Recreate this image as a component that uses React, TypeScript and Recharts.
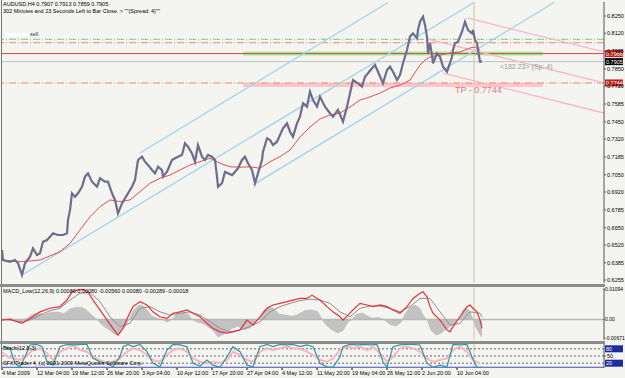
import React from "react";
import { ComposedChart, Line, Area, XAxis, YAxis, ReferenceLine } from "recharts";

const FONT = "'Liberation Sans', Arial, sans-serif";
const X_DOMAIN = [0, 602];

// H4 bar index counted from 4 Mar 2009 00:00
const dateTicks = [0, 35, 70, 105, 140, 175, 210, 245, 280, 315, 350, 385, 420, 455];
const dateLabels = [
  "4 Mar 2009", "12 Mar 04:00", "19 Mar 12:00", "26 Mar 20:00", "3 Apr 04:00", "10 Apr 12:00",
  "17 Apr 20:00", "27 Apr 04:00", "4 May 12:00", "11 May 20:00", "19 May 04:00", "26 May 12:00",
  "2 Jun 20:00", "10 Jun 04:00",
];

const priceTicks = [0.825, 0.812, 0.7985, 0.785, 0.772, 0.7585, 0.745, 0.732, 0.7185, 0.705, 0.692, 0.6785, 0.665, 0.652, 0.6385, 0.6255];

// [bar, close]
const closes: number[][] = [
  [0, 0.6482], [1, 0.6406], [8, 0.6393], [13, 0.6406], [16, 0.6381], [20, 0.6293], [23, 0.6381], [28, 0.6431],
  [31, 0.6494], [35, 0.6444], [38, 0.6457], [41, 0.6544], [45, 0.6557], [48, 0.6582], [51, 0.6608], [56, 0.6595],
  [61, 0.6595], [65, 0.6608], [66, 0.6708], [68, 0.6784], [70, 0.691], [73, 0.6884], [76, 0.691], [80, 0.696],
  [83, 0.7036], [86, 0.7061], [90, 0.6998], [95, 0.696], [98, 0.7024], [103, 0.6998], [106, 0.6998], [110, 0.691],
  [113, 0.686], [116, 0.6759], [120, 0.6834], [123, 0.6872], [126, 0.691], [130, 0.696], [133, 0.7011], [136, 0.7162],
  [140, 0.7187], [143, 0.7149], [146, 0.7124], [150, 0.7086], [153, 0.7061], [156, 0.7111], [160, 0.7086], [161, 0.7036],
  [165, 0.7073], [170, 0.7162], [173, 0.7175], [176, 0.7187], [180, 0.72], [183, 0.7288], [186, 0.7262], [190, 0.7212],
  [193, 0.7149], [196, 0.7275], [200, 0.7187], [203, 0.7162], [206, 0.72], [210, 0.7187], [213, 0.7162], [215, 0.7036],
  [216, 0.696], [220, 0.6986], [223, 0.7073], [226, 0.7061], [230, 0.7048], [233, 0.7073], [236, 0.7099], [240, 0.7162],
  [243, 0.7187], [246, 0.7137], [250, 0.7086], [253, 0.6986], [256, 0.7061], [260, 0.7162], [261, 0.7224], [265, 0.7326],
  [268, 0.7313], [271, 0.7275], [275, 0.73], [278, 0.7351], [281, 0.7401], [285, 0.7439], [288, 0.7376], [291, 0.7338],
  [295, 0.7439], [298, 0.7489], [301, 0.759], [305, 0.7565], [308, 0.7678], [311, 0.7615], [315, 0.7565], [318, 0.764],
  [323, 0.7565], [328, 0.7515], [331, 0.7489], [336, 0.754], [341, 0.7451], [345, 0.7565], [348, 0.7666], [351, 0.7766],
  [356, 0.7741], [360, 0.7716], [363, 0.7791], [366, 0.7817], [370, 0.7855], [373, 0.788], [376, 0.7829], [381, 0.7741],
  [385, 0.7842], [388, 0.7867], [391, 0.7829], [395, 0.7766], [398, 0.7804], [401, 0.7893], [405, 0.7993], [408, 0.8094],
  [411, 0.8119], [415, 0.8081], [416, 0.8144], [418, 0.8207], [421, 0.8245], [423, 0.8182], [425, 0.8094], [426, 0.7968],
  [428, 0.8044], [430, 0.7955], [431, 0.7893], [435, 0.7968], [438, 0.7942], [441, 0.7867], [445, 0.7829], [448, 0.7893],
  [450, 0.7942], [451, 0.7993], [453, 0.8044], [456, 0.8056], [460, 0.8131], [463, 0.8207], [466, 0.8144], [470, 0.8119],
  [471, 0.8144], [473, 0.8069], [475, 0.8044], [476, 0.7993], [478, 0.7905], [480, 0.7905],
];

const movingAvg: number[][] = [
  [0, 0.6406], [18, 0.6393], [38, 0.6406], [58, 0.6469], [68, 0.6532], [78, 0.6633], [88, 0.6733], [98, 0.6809],
  [108, 0.686], [118, 0.6847], [128, 0.686], [138, 0.6922], [148, 0.6986], [158, 0.7024], [168, 0.7048], [178, 0.7086],
  [188, 0.7124], [198, 0.7149], [208, 0.7175], [218, 0.7137], [228, 0.7111], [238, 0.7107], [248, 0.7111], [258, 0.7099],
  [268, 0.7149], [278, 0.7187], [288, 0.7237], [298, 0.7336], [308, 0.7411], [318, 0.7472], [328, 0.7502], [338, 0.7517],
  [348, 0.7562], [358, 0.7615], [368, 0.7638], [378, 0.7668], [388, 0.7706], [398, 0.7728], [408, 0.7766], [418, 0.788],
  [423, 0.7917], [428, 0.794], [438, 0.7955], [448, 0.797], [458, 0.7978], [468, 0.8008], [473, 0.8016], [478, 0.7993],
];

// [bar start, price start, bar end, price end]
const blueChannel = [
  [138, 0.7215, 386, 0.8352],
  [20, 0.6293, 472, 0.8352],
  [251, 0.6973, 552, 0.8352],
];
const pinkChannel = [
  [465, 0.8235, 602, 0.7978],
  [426, 0.8076, 602, 0.7744],
  [441, 0.7819, 602, 0.7517],
];

const levelGreen = 0.8074;
const levelOrange = 0.8048;
const levelRed = 0.7966;
const lastPrice = 0.7905;
const takeProfit = 0.7744;
const zoneBuy = [241, 541, 0.7966];
const zoneSell = [241, 541, 0.7729];
const currentBar = 472;

const macdMain: number[][] = [
  [0, -0.0002], [8, 0.0001], [15, -0.0008], [20, -0.0014], [28, 0.0004], [38, 0.0028], [48, 0.0041], [58, 0.0047],
  [65, 0.0071], [70, 0.0101], [76, 0.0108], [81, 0.011], [86, 0.0101], [91, 0.0071], [98, 0.0035], [105, -0.0002],
  [111, -0.0032], [116, -0.0057], [121, -0.0032], [126, 0.001], [131, 0.0047], [138, 0.0065], [145, 0.0053], [151, 0.0028],
  [158, 0.001], [165, 0.0004], [171, 0.0023], [178, 0.0028], [185, 0.0035], [191, 0.0023], [198, 0.001], [205, -0.0014],
  [211, -0.0032], [218, -0.0045], [225, -0.005], [231, -0.0045], [238, -0.0038], [245, -0.0002], [251, -0.002], [258, 0.001],
  [265, 0.0041], [271, 0.0053], [278, 0.0059], [285, 0.0065], [291, 0.0071], [298, 0.0077], [305, 0.0077], [310, 0.0089],
  [315, 0.0077], [318, 0.0071], [325, 0.0047], [331, 0.0028], [338, 0.001], [341, -0.0002], [346, 0.0016], [351, 0.0035],
  [358, 0.0059], [365, 0.0053], [371, 0.0047], [378, 0.0053], [385, 0.0047], [391, 0.0035], [398, 0.0023], [405, 0.0047],
  [411, 0.0077], [418, 0.0096], [421, 0.0101], [425, 0.0083], [428, 0.0047], [431, 0.0023], [438, -0.0002], [445, -0.0038],
  [448, -0.0045], [451, -0.0026], [458, 0.001], [465, 0.0047], [468, 0.0053], [471, 0.0041], [475, 0.0028], [478, -0.0002],
  [480, -0.0032],
];

const macdSignal: number[][] = [
  [0, 0.0001], [8, -0.0002], [18, -0.0008], [28, -0.0002], [38, 0.0016], [48, 0.0032], [58, 0.0041], [68, 0.0071],
  [78, 0.0096], [88, 0.0098], [98, 0.0065], [108, 0.001], [118, -0.0026], [128, -0.0014], [138, 0.0041], [148, 0.0047],
  [158, 0.0028], [168, 0.0016], [178, 0.0023], [188, 0.0028], [198, 0.0016], [208, -0.0008], [218, -0.0032], [228, -0.0045],
  [238, -0.0038], [248, -0.0026], [258, -0.0008], [268, 0.0028], [278, 0.0047], [288, 0.0059], [298, 0.0069], [308, 0.0074],
  [318, 0.0071], [328, 0.0059], [338, 0.0028], [348, 0.001], [358, 0.0041], [368, 0.0049], [378, 0.0049], [388, 0.0041],
  [398, 0.0028], [408, 0.0047], [418, 0.0077], [428, 0.0077], [438, 0.0028], [448, -0.002], [458, -0.0014], [468, 0.0028],
  [478, 0.0023], [480, 0.001],
];

const macdHist: number[][] = [
  [0, 0], [10, 0.0002], [16, -0.001], [22, 0], [26, 0.0006], [30, 0.0018], [36, 0.0024], [42, 0.0018], [48, 0.0026],
  [56, 0.0027], [62, 0.0022], [68, 0.0038], [74, 0.0045], [80, 0.0044], [84, 0.0036], [90, 0.0016], [95, 0], [100, -0.002],
  [106, -0.0035], [112, -0.0052], [116, -0.0057], [120, -0.004], [124, -0.0022], [127, 0], [131, 0.003], [136, 0.005],
  [140, 0.0053], [145, 0.0035], [150, 0.0012], [155, 0.0005], [160, 0], [165, -0.0009], [170, 0], [174, 0.0018],
  [180, 0.0024], [186, 0.002], [190, 0], [195, -0.0009], [201, -0.0015], [206, -0.0027], [211, -0.004], [216, -0.0064],
  [221, -0.0055], [226, -0.0045], [231, -0.0031], [236, -0.0025], [242, -0.0038], [248, -0.003], [253, -0.0009], [257, 0],
  [261, 0.003], [266, 0.0045], [272, 0.004], [277, 0.002], [283, 0.0016], [290, 0.0012], [296, 0.0018], [303, 0.0033],
  [310, 0.0035], [316, 0.0028], [320, 0], [324, -0.002], [330, -0.0038], [336, -0.0049], [341, -0.004], [346, -0.0009],
  [350, 0], [354, 0.0018], [360, 0.0024], [365, 0.0015], [370, 0.0005], [376, 0.0008], [382, 0], [388, -0.0018],
  [394, -0.0024], [399, -0.001], [403, 0.002], [408, 0.0045], [413, 0.0053], [418, 0.004], [422, 0.001], [425, 0],
  [429, -0.004], [434, -0.0057], [439, -0.005], [444, -0.0035], [449, -0.0024], [454, -0.0008], [457, 0], [461, 0.0035],
  [464, 0.0045], [468, 0.003], [471, 0], [474, -0.003], [478, -0.0055], [480, -0.0064],
];
const macdTicks = [0.01094, 0, -0.00671];
const macdTickLabels = ["0.01094", "0.00", "-0.00671"];

const stochMain: number[][] = [
  [1, 89], [8, 82], [13, 20], [18, 3], [23, 47], [28, 96], [35, 98], [40, 89], [45, 26], [51, 12], [58, 89], [65, 98],
  [73, 96], [78, 98], [85, 98], [91, 40], [98, 26], [105, 20], [111, 5], [118, 47], [121, 89], [126, 98], [131, 89],
  [138, 98], [145, 68], [151, 20], [158, 5], [165, 75], [171, 98], [178, 96], [185, 89], [191, 20], [198, 8], [205, 33],
  [211, 12], [218, 3], [225, 47], [231, 89], [238, 68], [245, 12], [251, 5], [258, 89], [265, 98], [271, 89], [278, 98],
  [285, 96], [291, 98], [298, 89], [305, 96], [311, 89], [318, 20], [325, 5], [331, 3], [338, 47], [341, 89], [348, 98],
  [355, 96], [361, 98], [368, 96], [375, 98], [381, 26], [385, 3], [391, 89], [398, 96], [405, 98], [411, 98], [418, 96],
  [425, 20], [431, 3], [438, 12], [445, 5], [451, 98], [458, 96], [465, 98], [470, 47], [475, 3], [480, 3],
];
const stochSignal: number[][] = [
  [0, 68], [5, 47], [11, 40], [18, 33], [25, 54], [31, 75], [38, 82], [45, 61], [51, 33], [58, 68], [65, 82], [71, 96],
  [78, 75], [85, 68], [91, 47], [98, 33], [105, 20], [111, 26], [118, 40], [125, 68], [131, 82], [138, 75], [145, 54],
  [151, 33], [158, 26], [165, 54], [171, 75], [178, 82], [185, 68], [191, 40], [198, 26], [205, 20], [211, 26], [218, 20],
  [225, 33], [231, 68], [238, 54], [245, 33], [251, 26], [258, 68], [265, 82], [271, 75], [278, 82], [285, 89], [291, 82],
  [298, 80], [305, 68], [311, 54], [318, 33], [325, 26], [331, 40], [338, 75], [345, 89], [351, 82], [358, 89], [365, 75],
  [371, 89], [378, 61], [385, 26], [391, 47], [398, 82], [405, 89], [411, 82], [418, 68], [425, 40], [431, 26], [438, 33],
  [445, 40], [451, 75], [458, 89], [465, 68], [471, 33], [478, 20],
];
const stochLevels = [80, 50, 20];
const stochFloor = 3;

function table(cols: Record<string, number[][]>) {
  const rows = new Map<number, any>();
  for (const key of Object.keys(cols)) {
    for (const [bar, v] of cols[key]) {
      const r = rows.get(bar) || { bar };
      r[key] = v;
      rows.set(bar, r);
    }
  }
  return Array.from(rows.values()).sort((a, b) => a.bar - b.bar);
}

const tag = (p: any, text: string, fill: string) => {
  const vb = p.viewBox || {};
  const x = (vb.x || 0) + (vb.width || 0) + 1;
  const y = vb.y || 0;
  return (
    <g>
      <rect x={x} y={y - 3.5} width={18} height={7} fill={fill} />
      <text x={x + 1} y={y + 2.2} fontSize={5.5} fill="#fff" fontFamily={FONT}>{text}</text>
    </g>
  );
};

const DateTick = (props: any) => {
  const { x, y, payload } = props;
  const i = dateTicks.indexOf(payload.value);
  return (
    <g>
      <line x1={x} x2={x} y1={y} y2={y + 2} stroke="#000" />
      <text x={x} y={y + 7} fontSize={5.5} fontFamily={FONT} fill="#000" textAnchor="start">{dateLabels[i]}</text>
    </g>
  );
};

const axisTick = { fontSize: 5.5, fill: "#000", fontFamily: FONT };
const macdAxisTick = { fontSize: 5, fill: "#000", fontFamily: FONT };
const dashDot = "7 2 1 2";

export default function App() {
  const mainRows = table({ close: closes, ma: movingAvg });
  const macdRows = table({ main: macdMain, signal: macdSignal, hist: macdHist });
  const stochRows = table({ k: stochMain, d: stochSignal });

  const text = (s: string, left: number, top: number, extra: any = {}) => (
    <div style={{ position: "absolute", left, top, fontSize: 5.5, lineHeight: "7px", whiteSpace: "nowrap", color: "#000", ...extra }}>{s}</div>
  );

  return (
    <div style={{ position: "absolute", left: 0, top: 0, width: 625, height: 378, background: "#f4f4f1", fontFamily: FONT, overflow: "hidden" }}>
      <div style={{ position: "absolute", left: 0, top: 0 }}>
        <ComposedChart width={625} height={285} data={mainRows} margin={{ top: 2, right: 0, bottom: 2, left: 2 }}>
          <XAxis type="number" dataKey="bar" domain={X_DOMAIN} hide allowDataOverflow />
          <YAxis orientation="right" width={21} domain={[0.62323, 0.83558]} ticks={priceTicks} allowDataOverflow
            tickFormatter={(v: number) => v.toFixed(4)} tick={axisTick} tickSize={2} tickMargin={1}
            axisLine={{ stroke: "#555" }} tickLine={{ stroke: "#555" }} interval={0} />
          <ReferenceLine x={currentBar} stroke="#c8c8a8" />
          <ReferenceLine segment={[{ x: zoneBuy[0], y: zoneBuy[2] }, { x: zoneBuy[1], y: zoneBuy[2] }]} stroke="#a8eca0" strokeWidth={4} />
          <ReferenceLine segment={[{ x: zoneSell[0], y: zoneSell[2] }, { x: zoneSell[1], y: zoneSell[2] }]} stroke="#ffc4cc" strokeWidth={4} />
          <ReferenceLine y={levelGreen} stroke="#7cc88c" strokeDasharray={dashDot} />
          <ReferenceLine y={levelOrange} stroke="#f08a60" strokeDasharray={dashDot} />
          <ReferenceLine y={levelRed} stroke="#d84040" label={(p: any) => tag(p, levelRed.toFixed(4), "#c02020")} />
          <ReferenceLine y={lastPrice} stroke="#c0c0c0" label={(p: any) => tag(p, lastPrice.toFixed(4), "#000")} />
          <ReferenceLine y={takeProfit} stroke="#f08a60" strokeDasharray={dashDot} label={(p: any) => tag(p, takeProfit.toFixed(4), "#c02020")} />
          {blueChannel.map((c, i) => (
            <ReferenceLine key={"b" + i} segment={[{ x: c[0], y: c[1] }, { x: c[2], y: c[3] }]} stroke="#a4d4ea" strokeWidth={1.3} />
          ))}
          {pinkChannel.map((c, i) => (
            <ReferenceLine key={"p" + i} segment={[{ x: c[0], y: c[1] }, { x: c[2], y: c[3] }]} stroke="#f6b8c6" strokeWidth={1.3} />
          ))}
          <Line dataKey="ma" stroke="#e84a5a" strokeWidth={1} dot={false} connectNulls isAnimationActive={false} />
          <Line dataKey="close" stroke="#6e6e8c" strokeWidth={2.2} dot={false} connectNulls isAnimationActive={false} />
        </ComposedChart>
      </div>

      <div style={{ position: "absolute", left: 0, top: 286 }}>
        <ComposedChart width={625} height={56} data={macdRows} margin={{ top: 2, right: 0, bottom: 2, left: 2 }}>
          <XAxis type="number" dataKey="bar" domain={X_DOMAIN} hide allowDataOverflow />
          <YAxis orientation="right" width={21} domain={[-0.00748, 0.0115]} ticks={macdTicks} allowDataOverflow
            tickFormatter={(v: number) => macdTickLabels[macdTicks.indexOf(v)]} tick={macdAxisTick} tickSize={1} tickMargin={0}
            axisLine={{ stroke: "#555" }} tickLine={{ stroke: "#555" }} interval={0} />
          <ReferenceLine x={currentBar} stroke="#c8c8a8" />
          <Area dataKey="hist" baseValue={0} fill="#c2c2c2" fillOpacity={1} stroke="#b4b4b4" strokeWidth={0.5} connectNulls isAnimationActive={false} />
          <ReferenceLine y={0} stroke="#b8b8b8" strokeWidth={1.5} />
          <Line dataKey="signal" stroke="#909090" strokeWidth={1} dot={false} connectNulls isAnimationActive={false} />
          <Line dataKey="main" stroke="#e8303a" strokeWidth={1.2} dot={false} connectNulls isAnimationActive={false} />
        </ComposedChart>
      </div>

      <div style={{ position: "absolute", left: 0, top: 342 }}>
        <ComposedChart width={625} height={36} data={stochRows} margin={{ top: 2, right: 0, bottom: 0, left: 2 }}>
          <XAxis type="number" dataKey="bar" domain={X_DOMAIN} ticks={dateTicks} interval={0} height={10}
            axisLine={false} tickLine={false} tickSize={0} tickMargin={0} tick={DateTick} allowDataOverflow />
          <YAxis orientation="right" width={21} domain={[0, 100]} ticks={[50]} allowDataOverflow
            tick={axisTick} tickSize={2} tickMargin={1} axisLine={{ stroke: "#555" }} tickLine={{ stroke: "#555" }} />
          <ReferenceLine x={currentBar} stroke="#c8c8a8" />
          {stochLevels.map((l) => (
            <ReferenceLine key={l} y={l} stroke="#666" strokeDasharray="2 2"
              label={l === 50 ? undefined : (p: any) => tag(p, String(l), "#1c2c9c")} />
          ))}
          <ReferenceLine y={stochFloor} stroke="#4050c8" />
          <Line dataKey="d" stroke="#ffb2c2" strokeWidth={2} dot={false} connectNulls isAnimationActive={false} />
          <Line dataKey="k" stroke="#2a9a9e" strokeWidth={1.2} dot={false} connectNulls isAnimationActive={false} />
        </ComposedChart>
      </div>

      {/* frame and separators */}
      <div style={{ position: "absolute", left: 1, top: 0, width: 1, height: 368, background: "#777" }} />
      <div style={{ position: "absolute", left: 0, top: 284, width: 605, height: 3, background: "#8c8c8c" }} />
      <div style={{ position: "absolute", left: 0, top: 341, width: 605, height: 3, background: "#8c8c8c" }} />

      {text("AUDUSD,H4  0.7907 0.7913 0.7859 0.7905", 3, 1)}
      {text('302 Minutes and 23 Seconds Left to Bar Close. > ""(Spread: 4)""', 3, 8)}
      <div style={{ position: "absolute", left: 6, top: 33, width: 24, height: 4, background: "#fff" }} />
      {text("sell", 30, 31, { color: "#333" })}
      {text("TP - 0.7744", 455, 85, { fontSize: 9, lineHeight: "10px", color: "#e07a7a" })}
      {text("<182.23>  (Sp: 4)", 500, 63, { fontSize: 7, lineHeight: "8px", color: "#9a9a9a" })}
      {text("MACD_Low(12,26,9) 0.00080 0.00080 -0.00560 0.00080 -0.00289 -0.00018", 3, 288)}
      {text("Stoch(12,5,3)", 3, 345)}
      {text("SFX/Trader 4, (c) 2001-2009 MetaQuotes Software Corp.", 3, 360)}
    </div>
  );
}
